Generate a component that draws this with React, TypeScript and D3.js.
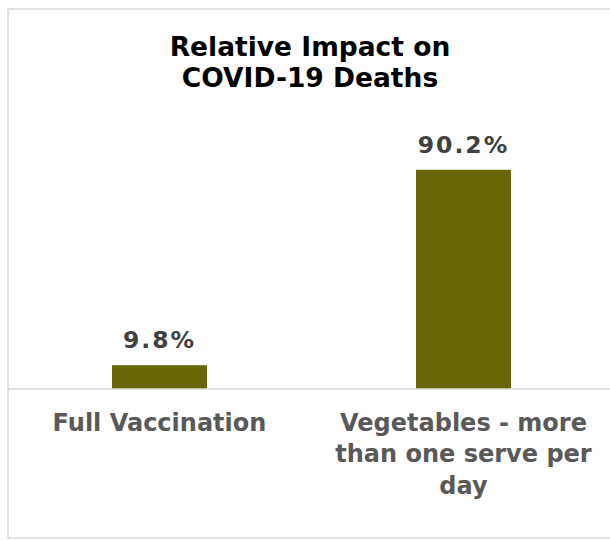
import React from "react";
import * as d3 from "d3";

const categories = ["Full Vaccination", "Vegetables - more than one serve per day"];
const categoryLines = [["Full Vaccination"], ["Vegetables - more", "than one serve per", "day"]];
const values = [9.8, 90.2];
const titleLines = ["Relative Impact on", "COVID-19 Deaths"];

const W = 610;
const H = 540;
const FONT = "'DejaVu Sans', Verdana, sans-serif";

export default function App() {
  const x = d3
    .scaleBand<string>()
    .domain(categories)
    .range([7.5, 615.5])
    .paddingInner(0.6875)
    .paddingOuter(0.34375);
  const y = d3.scaleLinear().domain([0, 100]).range([389, 146]);
  const bw = x.bandwidth();

  return (
    <svg
      width={W}
      height={H}
      style={{ position: "absolute", left: 0, top: 0, background: "#fff" }}
    >
      <rect x={8} y={9} width={640} height={529} fill="#fff" stroke="#d9d9d9" strokeWidth={1.5} />
      <text textAnchor="middle" fontFamily={FONT} fontWeight="bold" fontSize={26.5} fill="#000">
        {titleLines.map((t, i) => (
          <tspan key={i} x={310} y={56 + i * 31}>
            {t}
          </tspan>
        ))}
      </text>
      {categories.map((c, i) => {
        const x0 = x(c)!;
        const yv = y(values[i]);
        return (
          <g key={c}>
            <rect x={x0} y={yv} width={bw} height={y(0) - yv} fill="#676708" />
            <text
              x={x0 + bw / 2}
              y={yv - 17}
              textAnchor="middle"
              fontFamily={FONT}
              fontWeight="bold"
              fontSize={23.5}
              letterSpacing={2}
              fill="#404040"
            >
              {values[i].toFixed(1)}%
            </text>
            <text textAnchor="middle" fontFamily={FONT} fontWeight="bold" fontSize={24} fill="#595959">
              {categoryLines[i].map((t, j) => (
                <tspan key={j} x={x0 + bw / 2} y={430.5 + j * 31.5}>
                  {t}
                </tspan>
              ))}
            </text>
          </g>
        );
      })}
      <line x1={8} x2={W} y1={y(0)} y2={y(0)} stroke="#d9d9d9" strokeWidth={1.5} />
    </svg>
  );
}
